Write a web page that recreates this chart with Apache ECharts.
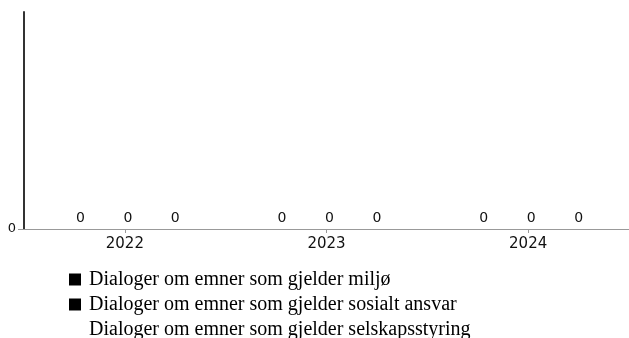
<!DOCTYPE html>
<html>
<head>
<meta charset="utf-8">
<script src="https://cdn.jsdelivr.net/npm/echarts@6/dist/echarts.min.js"></script>
<style>html,body{margin:0;padding:0;background:#fff;}#c{width:629px;height:338px;}</style>
</head>
<body>
<div id="c"></div>
<script>
const categories = ['2022', '2023', '2024'];
const seriesNames = [
  'Dialoger om emner som gjelder miljø',
  'Dialoger om emner som gjelder sosialt ansvar',
  'Dialoger om emner som gjelder selskapsstyring'
];
const miljo = [0, 0, 0];
const sosialt = [0, 0, 0];
const styring = [0, 0, 0];
const seriesColors = ['#000000', '#000000', '#ffffff'];
const yTicks = [0];

const chart = echarts.init(document.getElementById('c'), null, {renderer: 'canvas'});
const dataSets = [miljo, sosialt, styring];
chart.setOption({
  animation: false,
  backgroundColor: '#fff',
  grid: {left: 24, right: -6, top: 12, bottom: 109, containLabel: false},
  xAxis: {
    type: 'category',
    data: categories,
    axisLine: {lineStyle: {color: '#999', width: 1}},
    axisTick: {show: true, alignWithLabel: true, length: 4, lineStyle: {color: '#999'}},
    axisLabel: {fontFamily: 'DejaVu Sans', fontSize: 15, color: '#111', margin: 8}
  },
  yAxis: {
    type: 'value',
    min: 0, max: 1, interval: 1,
    axisLine: {show: true, lineStyle: {color: '#333', width: 2}},
    axisTick: {show: true, length: 6, customValues: yTicks, lineStyle: {color: '#999'}},
    axisLabel: {fontFamily: 'DejaVu Sans', fontSize: 13, color: '#111', margin: 8, customValues: yTicks},
    splitLine: {show: false}
  },
  legend: {
    orient: 'vertical',
    left: 69, top: 267,
    height: 80,
    padding: 0,
    itemGap: 0,
    itemWidth: 12, itemHeight: 12,
    icon: 'rect',
    textStyle: {fontFamily: 'Liberation Serif', fontSize: 20, lineHeight: 19, color: '#000', padding: [0, 0, 6, 3]},
    data: seriesNames
  },
  series: seriesNames.map((name, i) => ({
    name: name,
    type: 'bar',
    data: dataSets[i],
    barWidth: 36.5,
    barGap: '30%',
    itemStyle: {color: seriesColors[i]},
    label: {show: true, position: 'top', distance: 4, offset: [3, 0], fontFamily: 'DejaVu Sans', fontSize: 14, color: '#111'}
  }))
});
</script>
</body>
</html>
